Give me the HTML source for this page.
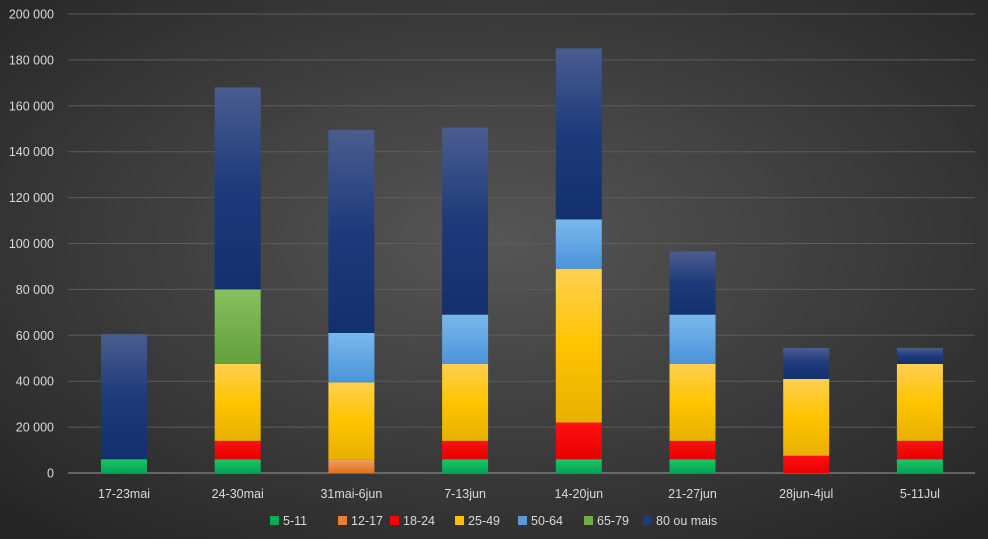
<!DOCTYPE html>
<html><head><meta charset="utf-8"><style>
html,body{margin:0;padding:0;width:988px;height:539px;overflow:hidden;background:#3a3a3a}
svg{display:block;font-family:"Liberation Sans",sans-serif}
</style></head><body>
<svg id="c" width="988" height="539" xmlns="http://www.w3.org/2000/svg">
<defs>
<radialGradient id="bg" cx="50%" cy="45%" r="70%">
<stop offset="0" stop-color="#565656"/><stop offset="1" stop-color="#262626"/></radialGradient>
<linearGradient id="g0" x1="0" y1="0" x2="0" y2="1"><stop offset="0" stop-color="#1fc46a"/><stop offset="1" stop-color="#00a550"/></linearGradient>
<linearGradient id="g1" x1="0" y1="0" x2="0" y2="1"><stop offset="0" stop-color="#f4a060"/><stop offset="1" stop-color="#e07020"/></linearGradient>
<linearGradient id="g2" x1="0" y1="0" x2="0" y2="1"><stop offset="0" stop-color="#ff1010"/><stop offset="1" stop-color="#e80000"/></linearGradient>
<linearGradient id="g3" x1="0" y1="0" x2="0" y2="1"><stop offset="0" stop-color="#ffd050"/><stop offset="0.5" stop-color="#ffc400"/><stop offset="1" stop-color="#e8b000"/></linearGradient>
<linearGradient id="g4" x1="0" y1="0" x2="0" y2="1"><stop offset="0" stop-color="#7ab8ee"/><stop offset="1" stop-color="#4a94d8"/></linearGradient>
<linearGradient id="g5" x1="0" y1="0" x2="0" y2="1"><stop offset="0" stop-color="#88c060"/><stop offset="1" stop-color="#62a03a"/></linearGradient>
<linearGradient id="g6" x1="0" y1="0" x2="0" y2="1"><stop offset="0" stop-color="#4a5d90"/><stop offset="0.5" stop-color="#1e3a7a"/><stop offset="1" stop-color="#13306e"/></linearGradient>
</defs>
<rect width="988" height="539" fill="url(#bg)"/>
<g id="grid"></g><g id="bars"></g><g id="lab"></g>
</svg>
<script>
var ns="http://www.w3.org/2000/svg";
function el(p,t,a,tx){var e=document.createElementNS(ns,t);for(var k in a)e.setAttribute(k,a[k]);if(tx!=null)e.textContent=tx;document.getElementById(p).appendChild(e);}
var y0=473,ppu=459/200000;
function Y(v){return y0-v*ppu;}
for(var i=0;i<=10;i++){var v=i*20000,y=Y(v);
 el("grid","line",{x1:68,x2:975,y1:y,y2:y,stroke:i==0?"#9a9a9a":"#5c5c5c","stroke-width":1});
 el("lab","text",{x:54,y:y+4.5,"text-anchor":"end","font-size":"12.5",fill:"#d9d9d9"},i==0?"0":(v/1000)+" 000");}
var cats=["17-23mai","24-30mai","31mai-6jun","7-13jun","14-20jun","21-27jun","28jun-4jul","5-11Jul"];
var data=[
[[0,0,6000],[6,6000,60500]],
[[0,0,6000],[2,6000,14000],[3,14000,47500],[5,47500,80000],[6,80000,168000]],
[[1,0,6000],[3,6000,39500],[4,39500,61000],[6,61000,149500]],
[[0,0,6000],[2,6000,14000],[3,14000,47500],[4,47500,69000],[6,69000,150500]],
[[0,0,6000],[2,6000,22000],[3,22000,89000],[4,89000,110500],[6,110500,185000]],
[[0,0,6000],[2,6000,14000],[3,14000,47500],[4,47500,69000],[6,69000,96500]],
[[2,0,7500],[3,7500,41000],[6,41000,54500]],
[[0,0,6000],[2,6000,14000],[3,14000,47500],[6,47500,54500]]];
for(var c=0;c<8;c++){var cx=124+c*113.7;
 data[c].forEach(function(s){el("bars","rect",{x:cx-23,width:46,y:Y(s[2]),height:Y(s[1])-Y(s[2]),fill:"url(#g"+s[0]+")"});});
 el("lab","text",{x:cx,y:498,"text-anchor":"middle","font-size":"12.5",fill:"#d9d9d9"},cats[c]);}
var leg=["5-11","12-17","18-24","25-49","50-64","65-79","80 ou mais"],lx=[270,338,390,455,518,584,643];
var lc=["#00b050","#ed7d31","#ff0000","#ffc000","#5b9bd5","#70ad47","#1f3c78"];
for(var i=0;i<7;i++){el("lab","rect",{x:lx[i],y:516,width:9,height:9,fill:lc[i]});
 el("lab","text",{x:lx[i]+13,y:525,"font-size":"12.5",fill:"#d9d9d9"},leg[i]);}
</script>
</body></html>
